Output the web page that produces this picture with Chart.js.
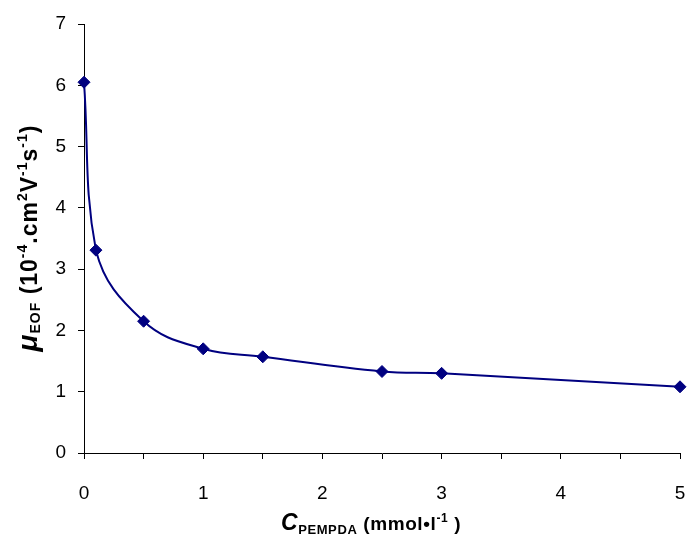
<!DOCTYPE html>
<html>
<head>
<meta charset="utf-8">
<script src="https://cdn.jsdelivr.net/npm/chart.js@4/dist/chart.umd.min.js"></script>
<style>
  html, body { margin: 0; padding: 0; background: #fff; }
  #wrap { width: 688px; height: 540px; position: relative; }
</style>
</head>
<body>
<div id="wrap"><canvas id="chart"></canvas></div>
<script>
// PEMPDA concentration (mmol/l) vs. electroosmotic mobility
const concentrations = [0, 0.1, 0.5, 1, 1.5, 2.5, 3, 5];
const mobility = [6.05, 3.31, 2.15, 1.70, 1.57, 1.33, 1.30, 1.08];
const xTicks = [0, 1, 2, 3, 4, 5];
const yTicks = [0, 1, 2, 3, 4, 5, 6, 7];

const navy = '#000080';
const font = '"Liberation Sans", Arial, sans-serif';

// draws a run of text pieces, each with its own size / offset (for sub- and superscripts)
function drawRuns(ctx, runs, x, y, spacing) {
    ctx.letterSpacing = (spacing || 0) + 'px';
    let w = 0;
    runs.forEach(r => {
        ctx.font = r.font;
        w += ctx.measureText(r.t).width;
    });
    let cx = x - w / 2;
    runs.forEach(r => {
        ctx.font = r.font;
        ctx.fillText(r.t, cx, y + (r.dy || 0));
        cx += ctx.measureText(r.t).width;
    });
    ctx.letterSpacing = '0px';
}

const axisTitles = {
    id: 'axisTitles',
    afterDraw(chart) {
        const ctx = chart.ctx;
        ctx.save();
        ctx.fillStyle = '#000';
        ctx.textBaseline = 'alphabetic';

        const big = 'bold 23px ' + font;
        const sup = 'bold 14px ' + font;
        const sub = 'bold 14px ' + font;

        // y title, rotated
        ctx.save();
        ctx.translate(37, 238);
        ctx.rotate(-Math.PI / 2);
        drawRuns(ctx, [
            { t: 'μ', font: 'italic bold 28px ' + font },
            { t: 'EOF', font: sub, dy: 3 },
            { t: ' (10', font: big },
            { t: '-4', font: sup, dy: -10 },
            { t: '.cm', font: big },
            { t: '2', font: sup, dy: -10 },
            { t: 'V', font: big },
            { t: '-1', font: sup, dy: -10 },
            { t: 's', font: big },
            { t: '-1', font: sup, dy: -10 },
            { t: ')', font: big }
        ], 0, 0, 1);
        ctx.restore();

        // x title
        drawRuns(ctx, [
            { t: 'C', font: 'italic bold 23px ' + font },
            { t: 'PEMPDA', font: 'bold 13px ' + font, dy: 4 },
            { t: ' (mmol•l', font: 'bold 19px ' + font },
            { t: '-1', font: 'bold 12px ' + font, dy: -8 },
            { t: ' )', font: 'bold 19px ' + font }
        ], 371, 530, 0.6);

        ctx.restore();
    }
};

const ctx = document.getElementById('chart').getContext('2d');

new Chart(ctx, {
    type: 'scatter',
    data: {
        datasets: [{
            data: concentrations.map((c, i) => ({ x: c, y: mobility[i] })),
            showLine: true,
            borderColor: navy,
            borderWidth: 2,
            tension: 0.4,
            pointStyle: 'rectRot',
            pointRadius: 6,
            pointBackgroundColor: navy,
            pointBorderColor: navy,
            pointBorderWidth: 1,
            clip: false
        }]
    },
    plugins: [axisTitles],
    options: {
        responsive: true,
        maintainAspectRatio: false,
        animation: false,
        layout: {
            autoPadding: false,
            padding: { top: 24, right: 8, left: 0, bottom: 0 }
        },
        plugins: {
            legend: { display: false },
            tooltip: { enabled: false }
        },
        scales: {
            x: {
                type: 'linear',
                min: 0,
                max: 5,
                afterBuildTicks: (s) => {
                    s.ticks = [];
                    for (let v = 0; v <= 5; v += 0.5) s.ticks.push({ value: v });
                },
                afterFit: (s) => {
                    s.height = 87;
                    s.paddingLeft = 0;
                    s.paddingRight = 0;
                },
                ticks: {
                    color: '#000',
                    font: { family: font, size: 19 },
                    padding: 23,
                    maxRotation: 0,
                    autoSkip: false,
                    callback: (v) => xTicks.includes(v) ? String(v) : ''
                },
                grid: {
                    drawOnChartArea: false,
                    drawTicks: true,
                    tickLength: 6,
                    color: '#000'
                },
                border: { display: true, color: '#000', width: 1 }
            },
            y: {
                min: 0,
                max: 7,
                afterBuildTicks: (s) => { s.ticks = yTicks.map(v => ({ value: v })); },
                afterFit: (s) => {
                    s.width = 84;
                    s.paddingTop = 0;
                    s.paddingBottom = 0;
                },
                ticks: {
                    color: '#000',
                    font: { family: font, size: 19 },
                    padding: 12
                },
                grid: {
                    drawOnChartArea: false,
                    drawTicks: true,
                    tickLength: 6,
                    color: '#000'
                },
                border: { display: true, color: '#000', width: 1 }
            }
        }
    }
});
</script>
</body>
</html>
